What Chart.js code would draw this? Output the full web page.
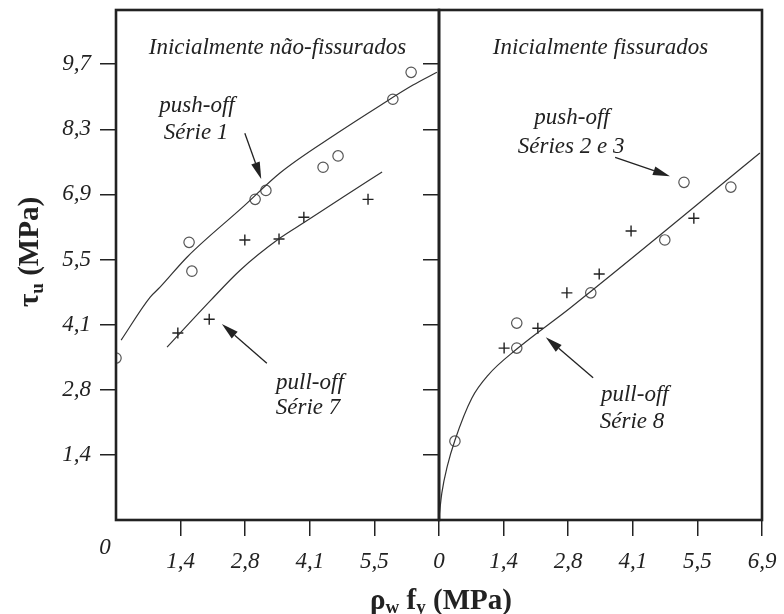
<!DOCTYPE html>
<html>
<head>
<meta charset="utf-8">
<script src="https://cdn.jsdelivr.net/npm/chart.js@4.4.1/dist/chart.umd.min.js"></script>
<style>
    html, body { margin: 0; padding: 0; background: #fff; }
    #wrap { position: relative; width: 784px; height: 614px; }
    canvas { position: absolute; top: 0; }
</style>
</head>
<body>
<div id="wrap">
    <canvas id="leftChart" width="784" height="614" style="left:0"></canvas>
    <canvas id="rightChart" width="364" height="614" style="left:420px"></canvas>
</div>
<script>
// Axis ticks (200 psi steps, labelled in MPa)
const X_MAX = 6.895;
const Y_MAX = 10.8;
const xTickValues = [0, 1.379, 2.758, 4.137, 5.516, 6.895];
const xTickLabels = ['0', '1,4', '2,8', '4,1', '5,5', '6,9'];
const yTickValues = [1.379, 2.758, 4.137, 5.516, 6.895, 8.274, 9.653];
const yTickLabels = ['1,4', '2,8', '4,1', '5,5', '6,9', '8,3', '9,7'];

// Inicialmente não-fissurados: push-off Série 1 (circles)
const push1X = [0.0, 1.56, 1.62, 2.97, 3.20, 4.42, 4.74, 5.91, 6.30];
const push1Y = [3.43, 5.88, 5.27, 6.79, 6.98, 7.47, 7.71, 8.91, 9.48];
// pull-off Série 7 (crosses)
const pull7X = [1.32, 1.99, 2.75, 3.48, 4.01, 5.38];
const pull7Y = [3.96, 4.25, 5.93, 5.95, 6.41, 6.79];
// fitted curves, left panel
const curve1X = [0.11, 0.73, 0.94, 1.52, 2.71, 3.50, 4.72, 5.64, 6.34, 6.85];
const curve1Y = [3.81, 4.72, 4.93, 5.57, 6.63, 7.35, 8.19, 8.78, 9.21, 9.48];
const curve7X = [1.09, 2.01, 2.65, 3.50, 4.03, 4.85, 5.68];
const curve7Y = [3.66, 4.64, 5.29, 5.97, 6.31, 6.84, 7.37];

// Inicialmente fissurados: push-off Séries 2 e 3 (circles)
const push23X = [0.34, 1.66, 1.66, 3.24, 4.82, 5.23, 6.23];
const push23Y = [1.67, 3.64, 4.17, 4.81, 5.93, 7.15, 7.05];
// pull-off Série 8 (crosses)
const pull8X = [1.39, 2.11, 2.73, 3.42, 4.10, 5.44];
const pull8Y = [3.64, 4.06, 4.81, 5.21, 6.12, 6.39];
// fitted curve, right panel
const curve8X = [0.0, 0.06, 0.18, 0.34, 0.70, 1.05, 1.66, 2.80, 6.85];
const curve8Y = [0.05, 0.57, 1.15, 1.69, 2.58, 3.07, 3.62, 4.49, 7.77];

const INK = '#222';
const tickFont = { family: '"Liberation Serif", "Times New Roman", serif', size: 23, style: 'italic' };
const italic = 'italic 23px "Liberation Serif", serif';

function zip(xs, ys) {
    return xs.map((x, i) => ({ x: x, y: ys[i] }));
}

function curveSet(xs, ys) {
    return {
        data: zip(xs, ys),
        showLine: true,
        pointRadius: 0,
        borderColor: '#333',
        borderWidth: 1.2,
        cubicInterpolationMode: 'monotone'
    };
}

function circleSet(xs, ys) {
    return {
        data: zip(xs, ys),
        pointStyle: 'circle',
        pointRadius: 5.2,
        pointBorderWidth: 1.2,
        borderColor: '#555',
        backgroundColor: 'rgba(0,0,0,0)'
    };
}

function crossSet(xs, ys) {
    return {
        data: zip(xs, ys),
        pointStyle: 'cross',
        pointRadius: 5.5,
        pointBorderWidth: 1.4,
        borderColor: INK,
        backgroundColor: INK
    };
}

function tickGrid() {
    return { drawOnChartArea: false, drawTicks: true, tickLength: 16, color: INK, lineWidth: 1.5 };
}

function xScale(values, labels) {
    return {
        type: 'linear', min: 0, max: X_MAX,
        afterBuildTicks: s => { s.ticks = values.map(v => ({ value: v })); },
        afterFit: s => { s.height = 94; s.paddingLeft = 0; s.paddingRight = 0; },
        ticks: { autoSkip: false, maxRotation: 0, padding: 12, color: INK, font: tickFont,
                 callback: (v, i) => labels[i] },
        grid: tickGrid(),
        border: { display: false }
    };
}

function yScale(width, showLabels) {
    return {
        type: 'linear', min: 0, max: Y_MAX,
        afterBuildTicks: s => { s.ticks = yTickValues.map(v => ({ value: v })); },
        afterFit: s => { s.width = width; s.paddingTop = 0; s.paddingBottom = 0; },
        ticks: { autoSkip: false, padding: 9, color: INK, font: tickFont,
                 callback: (v, i) => showLabels ? yTickLabels[i] : '' },
        grid: tickGrid(),
        border: { display: false }
    };
}

function drawArrow(ctx, x1, y1, x2, y2) {
    const a = Math.atan2(y2 - y1, x2 - x1);
    const len = 17, half = 4.5;
    const bx = x2 - len * Math.cos(a), by = y2 - len * Math.sin(a);
    ctx.beginPath();
    ctx.moveTo(x1, y1);
    ctx.lineTo(bx, by);
    ctx.lineWidth = 1.3;
    ctx.stroke();
    ctx.beginPath();
    ctx.moveTo(x2, y2);
    ctx.lineTo(bx + half * Math.sin(a), by - half * Math.cos(a));
    ctx.lineTo(bx - half * Math.sin(a), by + half * Math.cos(a));
    ctx.closePath();
    ctx.fill();
}

// Text runs with subscripts: [text, size, baseline shift]
function drawRuns(ctx, runs, cx, baseY) {
    let total = 0;
    runs.forEach(r => { ctx.font = 'bold ' + r[1] + 'px "Liberation Serif", serif'; total += ctx.measureText(r[0]).width; });
    let x = cx - total / 2;
    ctx.textAlign = 'left';
    ctx.textBaseline = 'alphabetic';
    runs.forEach(r => {
        ctx.font = 'bold ' + r[1] + 'px "Liberation Serif", serif';
        ctx.fillText(r[0], x, baseY + r[2]);
        x += ctx.measureText(r[0]).width;
    });
}

// Annotations: label lines and arrow, in data units
function panelPlugin(title, notes, extra) {
    return {
        id: 'panel',
        afterDraw(chart) {
            const { ctx, chartArea: area, scales } = chart;
            const sx = scales.x, sy = scales.y;
            ctx.save();
            ctx.strokeStyle = INK;
            ctx.fillStyle = INK;
            ctx.lineWidth = 2.6;
            ctx.strokeRect(area.left, area.top, area.right - area.left, area.bottom - area.top);

            ctx.font = italic;
            ctx.textAlign = 'center';
            ctx.textBaseline = 'middle';
            ctx.fillText(title, (area.left + area.right) / 2, sy.getPixelForValue(10.0));

            notes.forEach(n => {
                ctx.font = italic;
                ctx.textAlign = 'center';
                ctx.textBaseline = 'middle';
                n.lines.forEach(t => ctx.fillText(t[0], sx.getPixelForValue(t[1]), sy.getPixelForValue(t[2])));
                drawArrow(ctx, sx.getPixelForValue(n.from[0]), sy.getPixelForValue(n.from[1]),
                          sx.getPixelForValue(n.to[0]), sy.getPixelForValue(n.to[1]));
            });
            if (extra) extra(ctx, area);
            ctx.restore();
        }
    };
}

const notesLeft = [
    { lines: [['push-off', 1.73, 8.76], ['Série 1', 1.71, 8.19]], from: [2.75, 8.19], to: [3.10, 7.22] },
    { lines: [['pull-off', 4.14, 2.90], ['Série 7', 4.10, 2.37]], from: [3.22, 3.32], to: [2.26, 4.15] }
];
const notesRight = [
    { lines: [['push-off', 2.84, 8.51], ['Séries 2 e 3', 2.82, 7.90]], from: [3.76, 7.68], to: [4.93, 7.28] },
    { lines: [['pull-off', 4.18, 2.65], ['Série 8', 4.12, 2.07]], from: [3.29, 3.01], to: [2.28, 3.87] }
];

function axisTitles(ctx, area) {
    // origin label of the left panel
    ctx.font = italic;
    ctx.textAlign = 'center';
    ctx.textBaseline = 'middle';
    ctx.fillText('0', area.left - 11, area.bottom + 28);

    // y title
    ctx.save();
    ctx.translate(28, 252);
    ctx.rotate(-Math.PI / 2);
    drawRuns(ctx, [['τ', 29, 0], ['u', 19, 5], [' (MPa)', 29, 0]], 0, 10);
    ctx.restore();

    // x title
    drawRuns(ctx, [['ρ', 29, 0], ['w', 19, 4], [' f', 29, 0], ['y', 19, 4], [' (MPa)', 29, 0]], 441, 609);
}

const baseOptions = (scales, padding) => ({
    responsive: false,
    animation: false,
    layout: { padding: padding },
    plugins: { legend: { display: false }, tooltip: { enabled: false } },
    scales: scales
});

new Chart(document.getElementById('leftChart'), {
    type: 'scatter',
    data: {
        datasets: [
            curveSet(curve1X, curve1Y),
            curveSet(curve7X, curve7Y),
            circleSet(push1X, push1Y),
            crossSet(pull7X, pull7Y)
        ]
    },
    options: baseOptions({
        x: xScale(xTickValues.slice(1, 5), xTickLabels.slice(1, 5)),
        y: yScale(116, true)
    }, { top: 10, right: 345, left: 0, bottom: 0 }),
    plugins: [panelPlugin('Inicialmente não-fissurados', notesLeft, axisTitles)]
});

new Chart(document.getElementById('rightChart'), {
    type: 'scatter',
    data: {
        datasets: [
            curveSet(curve8X, curve8Y),
            circleSet(push23X, push23Y),
            crossSet(pull8X, pull8Y)
        ]
    },
    options: baseOptions({
        x: xScale(xTickValues, xTickLabels),
        y: yScale(19, false)
    }, { top: 10, right: 22, left: 0, bottom: 0 }),
    plugins: [panelPlugin('Inicialmente fissurados', notesRight, null)]
});
</script>
</body>
</html>
